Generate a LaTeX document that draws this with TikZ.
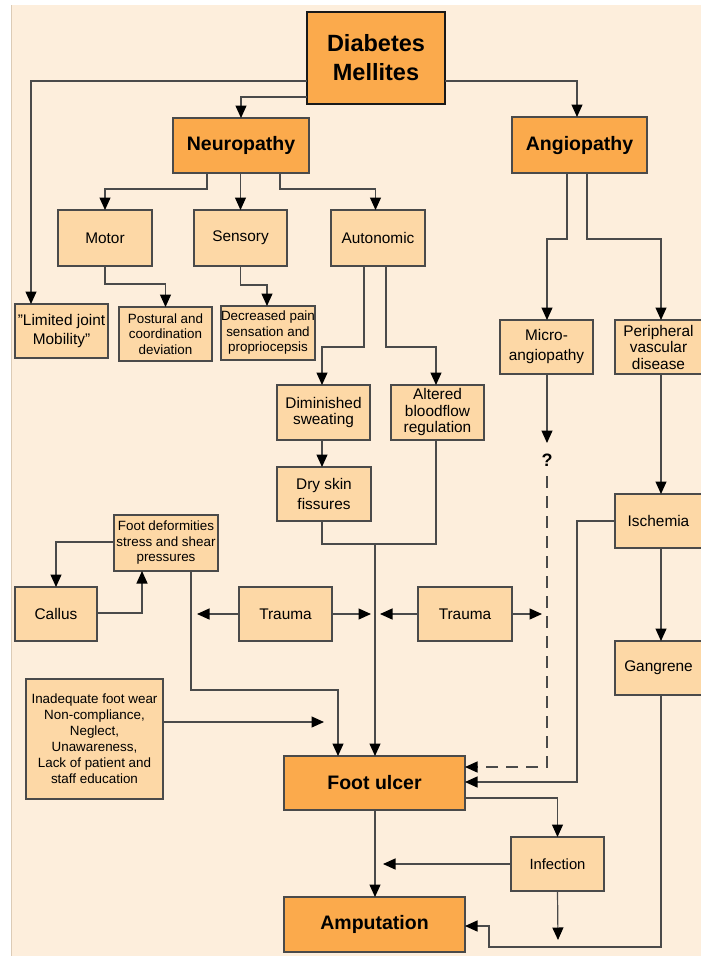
\documentclass[tikz,border=0pt]{standalone}
\usepackage{fontspec}
\setmainfont{Liberation Sans}
\usetikzlibrary{arrows.meta}
\definecolor{bg}{HTML}{FDEEDC}
\definecolor{lfill}{HTML}{FDD8A6}
\definecolor{ofill}{HTML}{FBAA4C}
\definecolor{edge}{HTML}{4A4A4A}
\definecolor{bgedge}{HTML}{DCCBB6}
\begin{document}
\begin{tikzpicture}[x=1pt,y=-1pt,
  box/.style={draw=edge, line width=1.2pt, inner sep=0pt, outer sep=0pt, align=center, text=black},
  lbox/.style={box, fill=lfill, font=\fontsize{15.4}{16.5}\selectfont},
  sbox/.style={box, fill=lfill, font=\fontsize{13.4}{15.5}\selectfont},
  obox/.style={box, fill=ofill, font=\bfseries\fontsize{19.5}{22}\selectfont},
  ln/.style={draw=edge, line width=1.2pt},
  arr/.style={ln, -{Triangle[length=12.5pt,width=11pt,color=black]}},
  dsh/.style={arr, dash pattern=on 12pt off 8pt},
]
\useasboundingbox (0,0) rectangle (701,956);
\fill[white] (0,0) rectangle (701,956);
\fill[bg] (11,5) rectangle (701,956);
\draw[bgedge, line width=1pt] (11,5) -- (11,956);

% orange boxes
\node[obox, draw=black!90, line width=2.6pt, minimum width=138pt, minimum height=92pt,
  font=\bfseries\fontsize{23.5}{29}\selectfont] (dm) at (376,58) {Diabetes\\Mellites};
\node[obox, minimum width=136pt, minimum height=55pt] (neuro) at (241,145.5) {Neuropathy};
\node[obox, minimum width=135pt, minimum height=56pt] (angio) at (579.5,145) {Angiopathy};
\node[obox, minimum width=181pt, minimum height=54pt] (ulcer) at (374.5,783) {Foot ulcer};
\node[obox, minimum width=181pt, minimum height=55pt] (amput) at (374.5,924.5) {Amputation};

% light boxes
\node[lbox, minimum width=94pt, minimum height=56pt] (motor) at (105,238) {Motor};
\node[lbox, minimum width=93pt, minimum height=56pt] (sensory) at (240.5,238) {Sensory};
\node[lbox, minimum width=94pt, minimum height=56pt] (auto) at (378,238) {Autonomic};
\node[lbox, minimum width=93pt, minimum height=54pt, font=\fontsize{15.4}{19}\selectfont] (limited) at (61.5,331) {\symbol{34}Limited joint\\Mobility\symbol{34}};
\node[sbox, minimum width=93pt, minimum height=54pt] (postural) at (165.5,334) {Postural and\\coordination\\deviation};
\node[sbox, minimum width=94pt, minimum height=54pt] (decreased) at (268,333) {Decreased pain\\sensation and\\propriocepsis};
\node[lbox, minimum width=93pt, minimum height=54pt, font=\fontsize{15.4}{20}\selectfont] (micro) at (546.5,347) {Micro-\\angiopathy};
\node[lbox, minimum width=87pt, minimum height=54pt] (periph) at (658.5,347) {Peripheral\\vascular\\disease};
\node[lbox, minimum width=93pt, minimum height=55pt] (dimin) at (323.5,412.5) {Diminished\\sweating};
\node[lbox, minimum width=93pt, minimum height=55pt] (altered) at (437.5,412.5) {Altered\\bloodflow\\regulation};
\node[lbox, minimum width=94pt, minimum height=54pt, font=\fontsize{15.4}{20}\selectfont] (dry) at (324,494) {Dry skin\\fissures};
\node[sbox, minimum width=104pt, minimum height=56pt] (footdef) at (166,543) {Foot deformities\\stress and shear\\pressures};
\node[lbox, minimum width=82pt, minimum height=54pt] (callus) at (56,614) {Callus};
\node[lbox, minimum width=93pt, minimum height=54pt] (trauma1) at (285.5,614) {Trauma};
\node[lbox, minimum width=94pt, minimum height=54pt] (trauma2) at (465,614) {Trauma};
\node[lbox, minimum width=87pt, minimum height=54pt] (isch) at (658.5,521) {Ischemia};
\node[lbox, minimum width=87pt, minimum height=54pt] (gang) at (658.5,668) {Gangrene};
\node[sbox, minimum width=137pt, minimum height=120pt, font=\fontsize{13.4}{16}\selectfont] (inadeq) at (94.5,739)
  {Inadequate foot wear\\Non-compliance,\\Neglect,\\Unawareness,\\Lack of patient and\\staff education};
\node[lbox, minimum width=93pt, minimum height=54pt, font=\fontsize{14.8}{16}\selectfont] (infect) at (557.5,864) {Infection};
\node[font=\bfseries\fontsize{18}{18}\selectfont, inner sep=1pt] (qm) at (547,460) {?};

% free ends
\coordinate (q1) at (547,443);
\coordinate (j) at (375,544);
\coordinate (t1l) at (197,614);
\coordinate (t1r) at (371,614);
\coordinate (t2l) at (380,614);
\coordinate (t2r) at (542,614);
\coordinate (inend) at (324,722);
\coordinate (infl) at (383,864);
\coordinate (infd) at (558,940);

% connectors from Diabetes
\draw[arr] (dm.west |- 0,81) -| (limited.north -| 31,0);
\draw[arr] (dm.west |- 0,97) -| (neuro.north);
\draw[arr] (dm.east |- 0,81) -| (angio.north -| 577,0);
% Neuropathy
\draw[arr] (neuro.south -| 207,0) -- (207,189) -| (motor.north);
\draw[arr] (neuro.south -| sensory.north) -- (sensory.north);
\draw[arr] (neuro.south -| 280,0) -- (280,189) -| (auto.north -| 375.5,0);
% Angiopathy
\draw[arr] (angio.south -| 567,0) -- (567,239) -| (micro.north -| 547,0);
\draw[arr] (angio.south -| 587,0) -- (587,239) -| (periph.north -| 661,0);
% Motor / Sensory / Autonomic
\draw[arr] (motor.south) -- (105,284) -| (postural.north);
\draw[arr] (sensory.south) -- (240.5,285) -| (decreased.north -| 267,0);
\draw[arr] (auto.south -| 364,0) -- (364,347) -| (dimin.north -| 322,0);
\draw[arr] (auto.south -| 386,0) -- (386,347) -| (altered.north -| 436,0);
% Micro
\draw[arr] (micro.south -| 547,0) -- (q1);
\draw[dsh] (qm.south |- 0,476) -- (547,767) -- (ulcer.east |- 0,767);
% Peripheral / Ischemia / Gangrene
\draw[arr] (periph.south -| 661,0) -- (isch.north -| 661,0);
\draw[arr] (isch.south -| 661,0) -- (gang.north -| 661,0);
\draw[arr] (isch.west) -- (577,521) |- (ulcer.east |- 0,782);
\draw[arr] (gang.south -| 661,0) -- (661,947) -- (489,947) |- (amput.east |- 0,926);
% Autonomic chain
\draw[arr] (dimin.south -| 322,0) -- (dry.north -| 322,0);
\draw[ln] (dry.south -| 322,0) |- (j);
\draw[ln] (altered.south -| 436,0) |- (j);
\draw[arr] (j) -- (ulcer.north -| 375,0);
% Foot deformities / callus
\draw[arr] (footdef.west |- 0,542) -| (callus.north);
\draw[arr] (callus.east |- 0,613) -| (footdef.south -| 142,0);
\draw[arr] (footdef.south -| 191,0) |- (338,690) -- (ulcer.north -| 338,0);
% Trauma
\draw[arr] (trauma1.west) -- (t1l);
\draw[arr] (trauma1.east) -- (t1r);
\draw[arr] (trauma2.west) -- (t2l);
\draw[arr] (trauma2.east) -- (t2r);
% Inadequate
\draw[arr] (inadeq.east |- 0,722) -- (inend);
% Foot ulcer / infection / amputation
\draw[arr] (ulcer.east |- 0,798) -| (infect.north);
\draw[arr] (infect.west) -- (infl);
\draw[arr] (infect.south) -- (infd);
\draw[arr] (ulcer.south -| 375,0) -- (amput.north -| 375,0);
\end{tikzpicture}
\end{document}
